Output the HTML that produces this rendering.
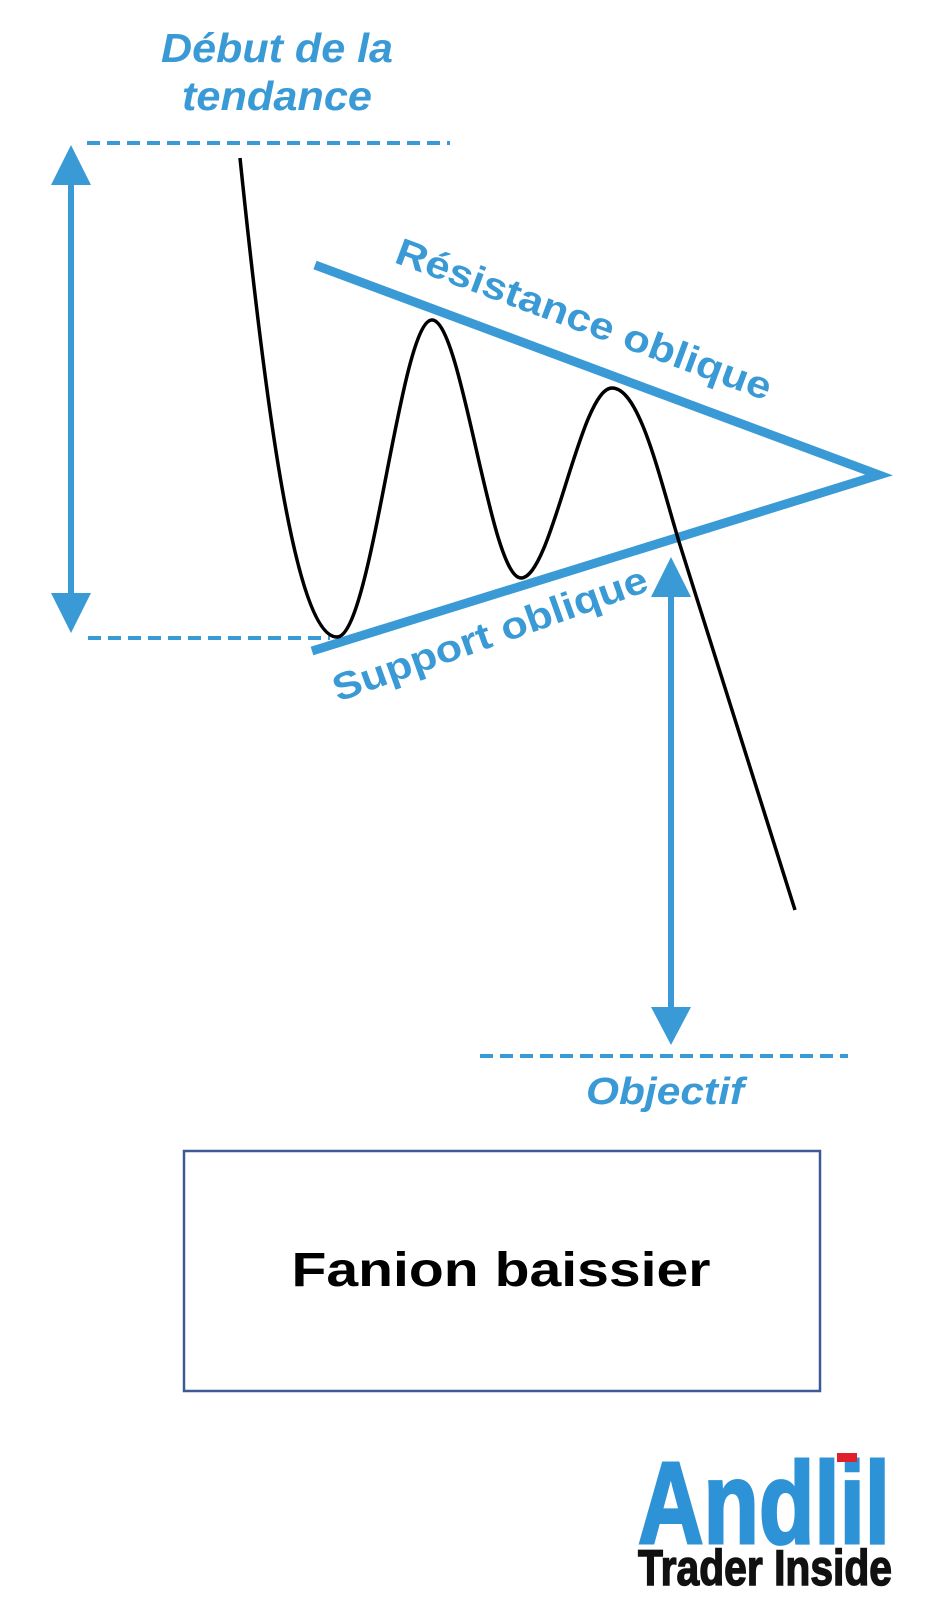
<!DOCTYPE html>
<html><head><meta charset="utf-8"><style>
html,body{margin:0;padding:0;background:#fff;}
svg{display:block;}
</style></head><body>
<svg width="928" height="1601" viewBox="0 0 928 1601" xmlns="http://www.w3.org/2000/svg">
<g font-family="Liberation Sans, Arial, sans-serif" fill="#3a9ad6">
<text x="277" y="62" font-size="41" font-weight="bold" font-style="italic" text-anchor="middle" textLength="232" lengthAdjust="spacingAndGlyphs">Début de la</text>
<text x="277" y="110" font-size="41" font-weight="bold" font-style="italic" text-anchor="middle" textLength="190" lengthAdjust="spacingAndGlyphs">tendance</text>
<text x="665" y="1104" font-size="38" font-weight="bold" font-style="italic" text-anchor="middle" textLength="158" lengthAdjust="spacingAndGlyphs">Objectif</text>
<text transform="translate(393,262) rotate(20.4)" font-size="38" font-weight="bold" textLength="398" lengthAdjust="spacingAndGlyphs">Résistance oblique</text>
<text transform="translate(338,702) rotate(-19.7)" font-size="38" font-weight="bold" textLength="332" lengthAdjust="spacingAndGlyphs">Support oblique</text>
</g>
<g stroke="#3a9ad6" fill="none">
<line x1="87" y1="143" x2="450" y2="143" stroke-width="4" stroke-dasharray="13,7"/>
<line x1="88" y1="638" x2="330" y2="638" stroke-width="4" stroke-dasharray="13,7"/>
<line x1="480" y1="1056" x2="848" y2="1056" stroke-width="4" stroke-dasharray="13,7"/>
<line x1="71" y1="180" x2="71" y2="598" stroke-width="6"/>
<line x1="671" y1="592" x2="671" y2="1012" stroke-width="6"/>
<polyline points="315,265 879,475 312,651" stroke-width="9" stroke-linejoin="miter"/>
</g>
<g fill="#3a9ad6">
<polygon points="71,145 51,185 91,185"/>
<polygon points="71,633 51,593 91,593"/>
<polygon points="671,557 651,597 691,597"/>
<polygon points="671,1045 651,1007 691,1007"/>
</g>
<path d="M240,158 C265,400 295,637 337,637 C372,637 400,320 432,320 C462,320 490,578 521,578 C552,578 580,388 612,388 C640,388 660,480 680,545 L795,910" fill="none" stroke="#000" stroke-width="3.5"/>
<rect x="184" y="1151" width="636" height="240" fill="none" stroke="#3d5a95" stroke-width="2.5"/>
<text x="501" y="1286" font-family="Liberation Sans, Arial, sans-serif" font-size="48" font-weight="bold" fill="#000" text-anchor="middle" textLength="419" lengthAdjust="spacingAndGlyphs">Fanion baissier</text>
<text x="638" y="1543" font-family="Liberation Sans, Arial, sans-serif" font-size="116" font-weight="bold" fill="#2d93d6" textLength="252" lengthAdjust="spacingAndGlyphs" stroke="#2d93d6" stroke-width="3">Andlil</text>
<rect x="837" y="1453" width="20" height="9" fill="#e0202a"/>
<text x="638" y="1585" font-family="Liberation Sans, Arial, sans-serif" font-size="50" font-weight="bold" fill="#111" textLength="254" lengthAdjust="spacingAndGlyphs" stroke="#111" stroke-width="1.5">Trader Inside</text>
</svg>
</body></html>
